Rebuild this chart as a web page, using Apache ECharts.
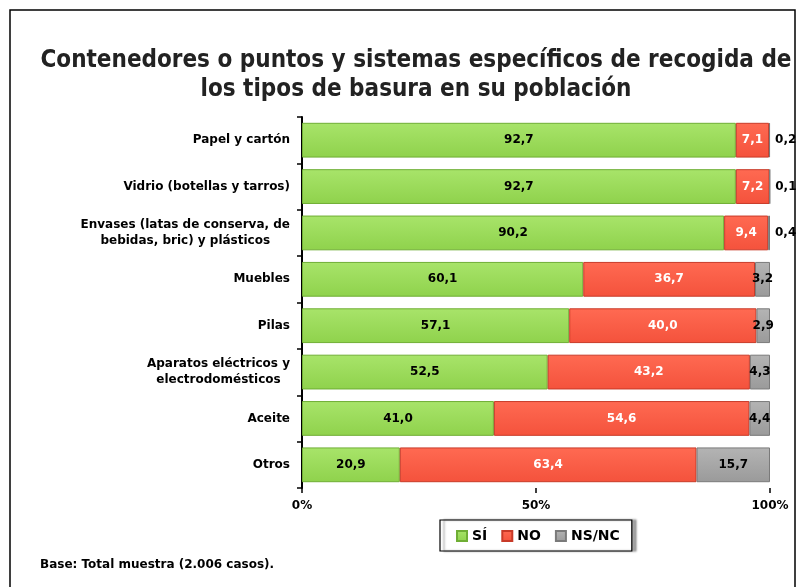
<!DOCTYPE html>
<html>
<head>
<meta charset="utf-8">
<script src="https://cdn.jsdelivr.net/npm/echarts@6/dist/echarts.min.js"></script>
<style>
  html, body { margin: 0; padding: 0; background: #fff; }
  #chart { width: 806px; height: 587px; }
</style>
</head>
<body>
<div id="chart"></div>
<script>
// categorías (de arriba a abajo)
const categorias = [
  'Papel y cartón',
  'Vidrio (botellas y tarros)',
  'Envases (latas de conserva, de\nbebidas, bric) y plásticos',
  'Muebles',
  'Pilas',
  'Aparatos eléctricos y\nelectrodomésticos',
  'Aceite',
  'Otros'
]
const valoresSi = [92.7, 92.7, 90.2, 60.1, 57.1, 52.5, 41.0, 20.9]
const valoresNo = [7.1, 7.2, 9.4, 36.7, 40.0, 43.2, 54.6, 63.4]
const valoresNsnc = [0.2, 0.1, 0.4, 3.2, 2.9, 4.3, 4.4, 15.7]
const ticksX = [0, 50, 100]

const fuente = 'DejaVu Sans'
const fuenteTitulo = 'DejaVu Sans Condensed, Liberation Sans, sans-serif'

const fmt = (v) => v.toFixed(1).replace('.', ',')

const chart = echarts.init(document.getElementById('chart'))

const grad = (c1, c2) => new echarts.graphic.LinearGradient(0, 0, 0, 1, [
  { offset: 0, color: c1 },
  { offset: 1, color: c2 }
])

const option = {
  backgroundColor: '#fff',
  animation: false,
  title: {
    text: 'Contenedores o puntos y sistemas específicos de recogida de\nlos tipos de basura en su población',
    left: 416,
    top: 46,
    padding: 0,
    textAlign: 'center',
    textStyle: {
      fontFamily: fuenteTitulo,
      fontWeight: 'bold',
      fontSize: 24,
      lineHeight: 29,
      color: '#222'
    }
  },
  legend: {
    left: 440,
    top: 520,
    width: 193,
    icon: 'rect',
    itemWidth: 10,
    itemHeight: 10,
    itemGap: 14,
    padding: [9, 12, 8, 16],
    borderColor: '#000',
    borderWidth: 1.2,
    backgroundColor: '#fff',
    shadowColor: 'rgba(0,0,0,0.35)',
    shadowOffsetX: 4,
    shadowOffsetY: 0,
    shadowBlur: 2,
    textStyle: {
      fontFamily: fuente,
      fontWeight: 'bold',
      fontSize: 14,
      color: '#000'
    },
    data: ['SÍ', 'NO', 'NS/NC']
  },
  grid: {
    left: 302,
    right: 36,
    top: 117,
    bottom: 99
  },
  xAxis: {
    type: 'value',
    min: 0,
    max: 100,
    interval: 50,
    axisLine: { show: false },
    axisTick: { show: true, length: 5, lineStyle: { color: '#000', width: 1.5 } },
    splitLine: { show: false },
    axisLabel: {
      margin: 12,
      fontFamily: fuente,
      fontWeight: 'bold',
      fontSize: 12,
      color: '#000',
      formatter: (v) => ticksX.includes(v) ? v + '%' : ''
    }
  },
  yAxis: {
    type: 'category',
    inverse: true,
    data: categorias,
    axisLine: { show: true, lineStyle: { color: '#000', width: 2 } },
    axisTick: { show: true, length: 5, lineStyle: { color: '#000', width: 1.5 } },
    axisLabel: {
      margin: 12,
      color: '#000',
      formatter: (v) => v.split('\n').map(l => '{c|' + l + '}').join('\n'),
      rich: {
        c: {
          align: 'center',
          fontFamily: fuente,
          fontWeight: 'bold',
          fontSize: 12,
          lineHeight: 16,
          color: '#000'
        }
      }
    }
  },
  series: [
    {
      name: 'SÍ',
      type: 'bar',
      stack: 'total',
      barWidth: '75%',
      data: valoresSi,
      itemStyle: {
        color: grad('#a8e46a', '#8fd24c'),
        borderColor: '#6fae34',
        borderWidth: 1
      },
      label: {
        show: true,
        position: 'inside',
        fontFamily: fuente,
        fontWeight: 'bold',
        fontSize: 12,
        color: '#000',
        formatter: (p) => fmt(p.value)
      }
    },
    {
      name: 'NO',
      type: 'bar',
      stack: 'total',
      data: valoresNo,
      itemStyle: {
        color: grad('#ff6a52', '#f4523c'),
        borderColor: '#c83a28',
        borderWidth: 1
      },
      label: {
        show: true,
        position: 'inside',
        fontFamily: fuente,
        fontWeight: 'bold',
        fontSize: 12,
        color: '#fff',
        formatter: (p) => fmt(p.value)
      }
    },
    {
      name: 'NS/NC',
      type: 'bar',
      stack: 'total',
      data: valoresNsnc.map(v => v < 1 ? {
        value: v,
        label: { position: 'right', distance: 5 }
      } : v),
      itemStyle: {
        color: grad('#b4b4b4', '#9a9a9a'),
        borderColor: '#7a7a7a',
        borderWidth: 1
      },
      label: {
        show: true,
        position: 'inside',
        fontFamily: fuente,
        fontWeight: 'bold',
        fontSize: 12,
        color: '#000',
        formatter: (p) => fmt(p.value)
      }
    }
  ],
  graphic: [
    {
      type: 'rect',
      silent: true,
      z: -1,
      shape: { x: 10, y: 10, width: 785, height: 600 },
      style: { fill: null, stroke: '#000', lineWidth: 1.5 }
    },
    {
      type: 'text',
      left: 40,
      top: 559,
      style: {
        text: 'Base: Total muestra (2.006 casos).',
        fontFamily: fuente,
        fontWeight: 'bold',
        fontSize: 12,
        fill: '#000'
      }
    }
  ]
}

chart.setOption(option)
</script>
</body>
</html>
